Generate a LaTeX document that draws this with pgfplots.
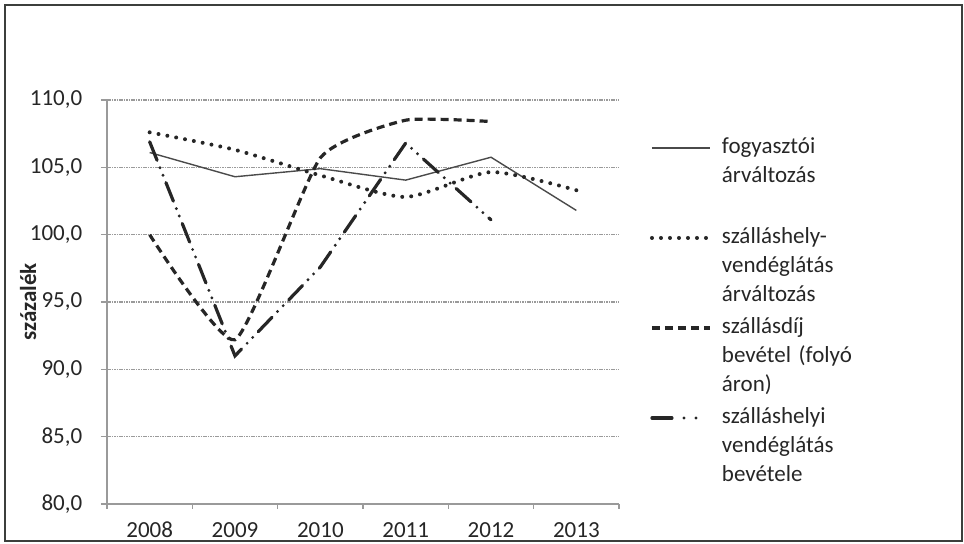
\documentclass[border=0pt]{standalone}
\usepackage{fontspec}
\setmainfont{Carlito}
\usepackage{pgfplots}
\pgfplotsset{compat=1.18}
\definecolor{ln}{HTML}{262626}
\definecolor{lnthin}{HTML}{4A4A4A}
\definecolor{frm}{HTML}{3C3F3C}
\definecolor{grd}{HTML}{9A9A9A}
\begin{document}
\fontsize{11}{14.5}\selectfont
\begin{tikzpicture}
\useasboundingbox (0,0) rectangle (482pt,-272pt);
\begin{axis}[
  at={(53.5pt,-252pt)}, anchor=south west,
  scale only axis, width=256pt, height=202pt,
  xmin=-0.5, xmax=5.5, ymin=80, ymax=110,
  xtick={0,1,2,3,4,5}, xticklabels={2008,2009,2010,2011,2012,2013},
  minor xtick={-0.5,0.5,1.5,2.5,3.5,4.5,5.5},
  ytick={80,85,90,95,100,105,110},
  axis x line*=bottom, axis y line*=left,
  axis line style={-, draw=grd, line width=0.6pt},
  ymajorgrids, grid style={draw=grd, line width=0.6pt, dash pattern=on 0.8pt off 0.4pt},
  tick align=outside, major tick length=3pt, minor tick length=2.5pt,
  ytick style={draw=grd, line width=0.6pt},
  minor x tick style={draw=grd, line width=0.6pt},
  major x tick style={draw=none},
  tick label style={font=\fontsize{11.5}{13}\selectfont, color=black!85},
  yticklabel style={/pgf/number format/.cd, fixed, fixed zerofill, precision=1, use comma, assume math mode=true, /tikz/.cd, xshift=-5.5pt},
  xticklabel style={anchor=base, yshift=-14pt},
  ylabel={\bfseries százalék},
  ylabel style={at={(axis description cs:-0.154,0.5)}, anchor=center, font=\fontsize{11.5}{13}\selectfont, color=black!85},
  legend image code/.code={\draw[#1] (0pt,0pt) -- (29pt,0pt);},
  legend style={at={(axis description cs:1.0605,0.9185)}, anchor=north west, draw=none, fill=none,
    inner sep=0pt, outer sep=0pt, row sep=1.5pt, column sep=5pt,
    font=\fontsize{11.5}{14.5}\selectfont, text=black!85,
    cells={anchor=mid west, text width=80pt, align=left, inner sep=0pt},
    nodes={text depth=, text height=, inner sep=0pt, anchor=mid west}},
]
\addplot[lnthin, line width=0.7pt] coordinates {(0,106.1)(1,104.3)(2,104.9)(3,104.05)(4,105.75)(5,101.8)};
\addlegendentry{\strut fogyasztói\\árváltozás\\\strut}
\addplot[ln, line width=2pt, line cap=round, dash pattern=on 0pt off 4.5pt, smooth, tension=0.4] coordinates {(0,107.6)(1,106.3)(2,104.4)(3,102.8)(4,104.65)(5,103.3)};
\addlegendentry{\strut szálláshely-\\vendéglátás\\árváltozás\strut}
\addplot[ln, line width=1.6pt, dash pattern=on 4pt off 2.5pt, smooth, tension=0.3] coordinates {(0,100.0)(1,92.2)(2,105.7)(3,108.5)(4,108.4)};
\addlegendentry{\strut szállásdíj\\bevétel (folyó\\áron)\strut}
\addplot[ln, line width=1.6pt, line cap=round, dash pattern=on 10pt off 4pt on 0pt off 4pt on 0pt off 4pt,
  legend image post style={dash pattern=on 10pt off 6pt on 0pt off 6pt on 0pt off 20pt}] coordinates {(0,106.9)(1,91.0)(2,97.6)(3,106.8)(4,101.1)};
\addlegendentry{\strut szálláshelyi\\vendéglátás\\bevétele\strut}
\end{axis}
\draw[color=frm, line width=1.2pt] (2.5pt,-2.5pt) rectangle (481pt,-270.5pt);
\end{tikzpicture}
\end{document}
